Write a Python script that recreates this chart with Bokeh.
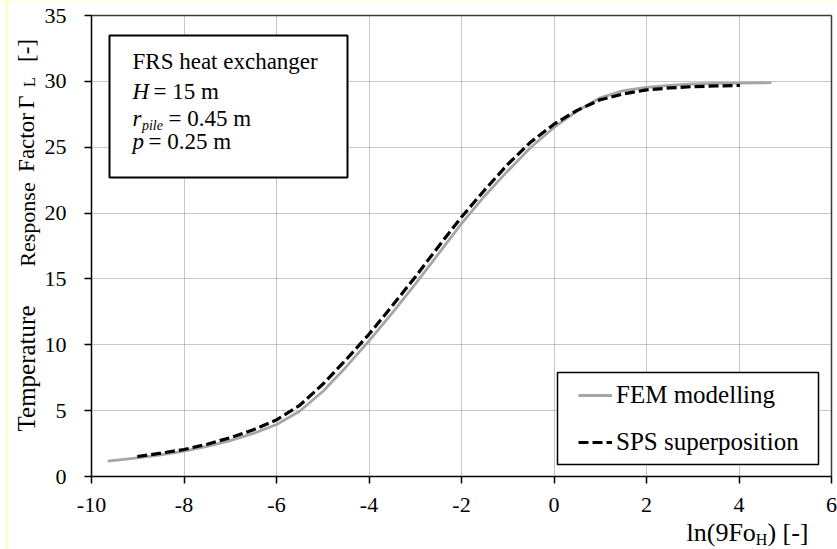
import math
from bokeh.plotting import figure
from bokeh.models import Range1d, FixedTicker, Label, BoxAnnotation, Legend, LegendItem, Grid, Span
from bokeh.embed import file_html
from bokeh.resources import INLINE

# ---------------- data ----------------
fem_x = [-9.65, -9.0, -8.5, -8.0, -7.5, -7.0, -6.5, -6.0, -5.5, -5.0, -4.5, -4.0, -3.5, -3.0,
         -2.5, -2.0, -1.5, -1.0, -0.5, 0.0, 0.5, 1.0, 1.5, 2.0, 2.5, 3.0, 3.5, 4.0, 4.7]
fem_y = [1.16, 1.42, 1.65, 1.92, 2.28, 2.72, 3.27, 3.95, 4.95, 6.45, 8.3, 10.3, 12.4, 14.6,
         16.9, 19.2, 21.3, 23.2, 25.0, 26.5, 27.75, 28.75, 29.3, 29.55, 29.7, 29.8, 29.85, 29.87, 29.9]

sps_x = [-9.01, -8.5, -8.0, -7.5, -7.0, -6.5, -6.0, -5.5, -5.0, -4.5, -4.0, -3.5, -3.0,
         -2.5, -2.0, -1.5, -1.0, -0.5, 0.0, 0.5, 1.0, 1.5, 2.0, 2.5, 3.0, 3.5, 4.02]
sps_y = [1.52, 1.77, 2.05, 2.45, 2.95, 3.55, 4.3, 5.4, 7.0, 8.85, 10.8, 12.95, 15.15,
         17.45, 19.7, 21.75, 23.7, 25.4, 26.75, 27.8, 28.6, 29.05, 29.35, 29.5, 29.6, 29.65, 29.69]

series_names = ["FEM modelling", "SPS superposition"]
x_ticks = [-10, -8, -6, -4, -2, 0, 2, 4, 6]
x_tick_labels = ["-10", "-8", "-6", "-4", "-2", "0", "2", "4", "6"]
y_ticks = [0, 5, 10, 15, 20, 25, 30, 35]
y_tick_labels = ["0", "5", "10", "15", "20", "25", "30", "35"]
info_title = "FRS heat exchanger"
info_lines = [("H", "", "= 15 m"), ("r", "pile", "= 0.45 m"), ("p", "", "= 0.25 m")]
y_title_parts = ["Temperature", "Response", "Factor", "\u0393", "L", "[-]"]
x_title_parts = ["ln(9Fo", "H", ") [-]"]

# ---------------- geometry ----------------
FONT = "Liberation Serif"
W, H = 837, 549
FL, FR, FT, FB = 91, 831, 15, 476          # plot-area edges in pixels
XMIN, XMAX, YMIN, YMAX = -10, 6, 0, 35
BASE_SHIFT = 0.38                           # label anchor -> visual baseline correction (em)


def dx(px):
    return XMIN + (px - FL) * (XMAX - XMIN) / (FR - FL)


def dy(py):
    return YMAX - (py - FT) * (YMAX - YMIN) / (FB - FT)


p = figure(width=W, height=H, x_range=Range1d(dx(0), dx(W)), y_range=Range1d(dy(H), dy(0)),
           output_backend="svg", toolbar_location=None,
           min_border_left=0, min_border_right=0, min_border_top=0, min_border_bottom=0)
p.background_fill_color = "white"
p.border_fill_color = "white"
p.outline_line_color = None

# faint yellow page edge
p.add_layout(Span(location=dx(6.5), dimension="height", line_color="#ffff8c", line_width=1.2))
p.add_layout(Span(location=dy(0.5), dimension="width", line_color="#ffffb0", line_width=1))

for ax, ticks, labels, loc, bnds in ((p.xaxis[0], x_ticks, x_tick_labels, YMIN, (XMIN, XMAX)),
                                     (p.yaxis[0], y_ticks, y_tick_labels, XMIN, (YMIN, YMAX))):
    ax.ticker = FixedTicker(ticks=ticks)
    ax.major_label_overrides = {t: l for t, l in zip(ticks, labels)}
    ax.fixed_location = loc
    ax.bounds = bnds
    ax.axis_line_color = "black"
    ax.axis_line_width = 1.5
    ax.major_tick_line_color = "black"
    ax.major_tick_line_width = 1.5
    ax.major_tick_in = 0
    ax.major_tick_out = 7
    ax.minor_tick_line_color = None
    ax.major_label_text_font = FONT
    ax.major_label_text_font_size = "22px"
    ax.major_label_text_color = "black"
p.xaxis.major_label_standoff = 14
p.yaxis.major_label_standoff = 18

p.xgrid.ticker = FixedTicker(ticks=x_ticks)
p.xgrid.bounds = (XMIN, XMAX)
p.xgrid.cross_bounds = (YMIN, YMAX)
p.ygrid.ticker = FixedTicker(ticks=y_ticks)
p.ygrid.bounds = (YMIN, YMAX)
p.ygrid.cross_bounds = (XMIN, XMAX)
for g in (p.xgrid[0], p.ygrid[0]):
    g.grid_line_color = "#8c8c8c"
    g.grid_line_dash = "1 1"
    g.grid_line_width = 1

# top and right edges of the plot area
p.add_layout(Grid(dimension=1, ticker=FixedTicker(ticks=[YMAX]), bounds=(YMIN, YMAX),
                  cross_bounds=(XMIN, XMAX), grid_line_color="#3a3a3a", grid_line_width=1.5))
p.add_layout(Grid(dimension=0, ticker=FixedTicker(ticks=[XMAX]), bounds=(XMIN, XMAX),
                  cross_bounds=(YMIN, YMAX), grid_line_color="#3a3a3a", grid_line_width=1.5))

r_fem = p.line(fem_x, fem_y, line_color="#a6a6a6", line_width=2.8, line_join="round")
r_sps = p.line(sps_x, sps_y, line_color="black", line_width=3.2, line_dash="10 4")


def lab(xp, yp, text, size_px, style="normal", align="left", rotated=False):
    """Place a label whose visual baseline is at pixel (xp, yp) (or x = xp when rotated)."""
    if rotated:
        xp = xp - BASE_SHIFT * size_px
    else:
        yp = yp - BASE_SHIFT * size_px
    p.add_layout(Label(x=dx(xp), y=dy(yp), text=text, text_font=FONT,
                       text_font_size=f"{size_px}px", text_font_style=style,
                       text_baseline="alphabetic", text_align=align, text_color="black",
                       angle=math.pi / 2 if rotated else 0.0))


# ---------------- info box ----------------
p.add_layout(BoxAnnotation(left=dx(109), right=dx(347), top=dy(35), bottom=dy(177),
                           fill_color="white", fill_alpha=1, line_color="black", line_alpha=1,
                           line_width=2))
lab(132, 69.5, info_title, 23)
line_base = [100, 127, 150]
rest_x = [153, 168, 148]
for (sym, sub, rest), base, rx in zip(info_lines, line_base, rest_x):
    lab(132, base, sym, 23, "italic")
    if sub:
        lab(132 + 0.389 * 23 + 0.5, base + 3, sub, 14, "italic")
    lab(rx, base, rest, 23)

# ---------------- legend ----------------
p.add_layout(BoxAnnotation(left=dx(557), right=dx(818), top=dy(372), bottom=dy(464),
                           fill_color="white", fill_alpha=1, line_color="black", line_alpha=1,
                           line_width=1.5))
legend = Legend(items=[LegendItem(label=series_names[0], renderers=[r_fem]),
                       LegendItem(label=series_names[1], renderers=[r_sps])],
                location=(570, H - 465), orientation="vertical",
                glyph_width=34, glyph_height=30, label_standoff=4, spacing=17, padding=8, margin=0,
                border_line_alpha=0, background_fill_alpha=0,
                label_text_font=FONT, label_text_font_size="25px", label_text_color="black")
p.add_layout(legend)

# ---------------- axis titles ----------------
yt_x = 35
yt_pos = [(368, 25, 0), (224, 22, 0), (142, 23, 0), (101.5, 23, 0), (81.5, 16, 0), (50, 23, 0)]
for part, (yc, size, shift) in zip(y_title_parts, yt_pos):
    lab(yt_x + shift, yc, part, size, align="center", rotated=True)

xt_base = 541.5
xs = 686
lab(xs, xt_base, x_title_parts[0], 26)
xs += 2.667 * 26
lab(xs, xt_base + 4, x_title_parts[1], 16)
xs += 0.722 * 16
lab(xs, xt_base, x_title_parts[2], 26)

open("out.html", "w").write(file_html(p, INLINE))
